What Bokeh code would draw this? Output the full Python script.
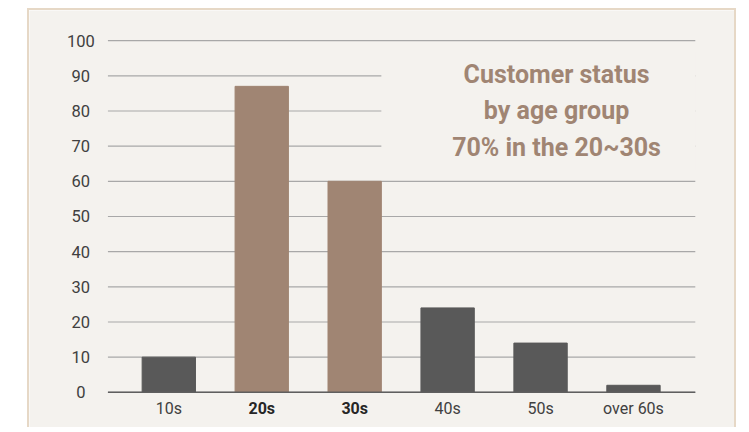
from bokeh.plotting import figure
from bokeh.models import Spacer, ColumnDataSource
from bokeh.layouts import row, column
from bokeh.core.properties import value
from bokeh.embed import file_html
from bokeh.resources import INLINE

categories = ["10s", "20s", "30s", "40s", "50s", "over 60s"]
values = [10, 87, 60, 24, 14, 2]
highlight = [False, True, True, False, False, False]
y_ticks = [0, 10, 20, 30, 40, 50, 60, 70, 80, 90, 100]
title_lines = ["Customer status", "by age group", "70% in the 20~30s"]

BG = "#f4f2ee"
BROWN = "#a08573"
DARK = "#595959"
FONT = "Roboto"

xs = list(range(len(categories)))
colors = [BROWN if h else DARK for h in highlight]
styles = ["bold" if h else "normal" for h in highlight]
lab_colors = ["#262626" if h else "#404040" for h in highlight]

bar_w = 0.574
G0, G1 = -0.655, 5.665          # extent of the plotting area (gridlines)
p = figure(frame_width=705, frame_height=417, x_range=(-1.499, 6.130), y_range=(-10.571, 108.57),
           output_backend="svg", toolbar_location=None, x_axis_type=None, y_axis_type=None,
           min_border_left=0, min_border_right=0, min_border_top=0, min_border_bottom=0)
p.background_fill_color = BG
p.border_fill_color = BG
p.outline_line_color = None
p.styles = {"border-left": "2px solid #e6d8c6", "border-top": "2px solid #e6d8c6",
            "border-right": "2px solid #e6d8c6"}

p.xgrid.visible = False
p.ygrid.visible = False
# horizontal gridlines at the tick values
p.segment(x0=[G0] * len(y_ticks), x1=[G1] * len(y_ticks), y0=y_ticks, y1=y_ticks,
          line_color="#a8a8a8", line_width=1.2)

# y tick labels, centred left of the plotting area
p.text(x=[G0 - 0.292] * len(y_ticks), y=y_ticks, text=[str(v) for v in y_ticks],
       text_align="center", text_baseline="middle", text_font=value(FONT),
       text_font_size="16.5px", text_color="#404040")

src = ColumnDataSource(dict(x=xs, top=values, color=colors, cat=categories,
                            fs=styles, lc=lab_colors, ly=[-4.6] * len(xs)))
p.vbar(x="x", top="top", width=bar_w, color="color", source=src)

# baseline
p.segment(x0=[G0], x1=[G1], y0=[0], y1=[0], line_color="#5f5f5f", line_width=1.5)

# mask behind the title text that hides gridlines
p.quad(left=[2 + bar_w / 2], right=[G1], bottom=[63], top=[97],
       fill_color=BG, line_color=None)

p.text(x=[4.172] * 3, y=[90.5, 80.1, 69.7], text=title_lines, text_align="center",
       text_baseline="middle", text_font=value(FONT), text_font_style="bold",
       text_font_size="25px", text_color=BROWN)

p.text(x="x", y="ly", text="cat", source=src, text_align="center",
       text_baseline="middle", text_font=value(FONT), text_font_style="fs",
       text_font_size="16px", text_color="lc")

layout = column(Spacer(height=8), row(Spacer(width=27), p))
open("out.html", "w").write(file_html(layout, INLINE))
